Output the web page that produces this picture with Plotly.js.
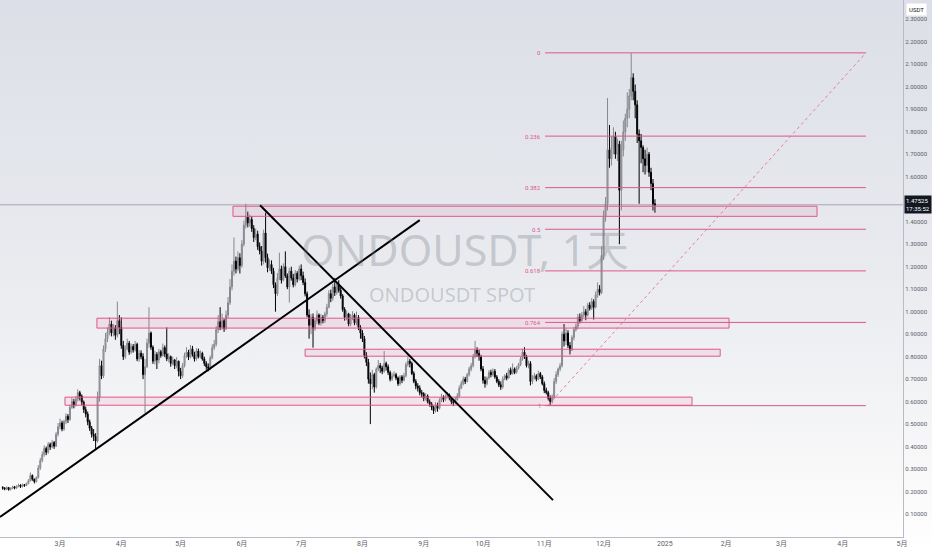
<!DOCTYPE html>
<html>
<head>
<meta charset="utf-8">
<script src="https://cdn.plot.ly/plotly-3.0.1.min.js"></script>
<style>
  html,body{margin:0;padding:0;}
  body{width:932px;height:550px;overflow:hidden;
       background:linear-gradient(180deg,#dcdfe7 0%,#e9ebef 50%,#f8f8f9 85%,#ffffff 100%);}
  #chart{width:932px;height:550px;}
</style>
</head>
<body>
<div id="chart"></div>
<script>
// ---- daily candles ONDOUSDT (close / high / low per month), open = previous close ----
const firstOpen = 0.218;
const febC=[0.215,0.212,0.218,0.209,0.214,0.221,0.216,0.223,0.229,0.222,0.231,0.227,0.236,0.248,0.272,0.255,0.244,0.262,0.305,0.338,0.365,0.392,0.375,0.410,0.398,0.418,0.402,0.455,0.488];
const febH=[0.224,0.220,0.223,0.220,0.218,0.226,0.225,0.228,0.235,0.232,0.236,0.233,0.240,0.256,0.285,0.276,0.258,0.268,0.318,0.350,0.378,0.405,0.400,0.420,0.418,0.430,0.425,0.465,0.505];
const febL=[0.208,0.206,0.207,0.204,0.205,0.211,0.210,0.212,0.219,0.216,0.219,0.221,0.224,0.232,0.245,0.248,0.236,0.240,0.258,0.296,0.330,0.355,0.362,0.368,0.385,0.392,0.390,0.398,0.445];
const marC=[0.505,0.478,0.512,0.535,0.520,0.575,0.600,0.585,0.612,0.640,0.625,0.598,0.565,0.545,0.510,0.482,0.455,0.445,0.425,0.620,0.760,0.715,0.835,0.880,0.910,0.945,0.905,0.928,0.895,0.960,0.930];
const marH=[0.525,0.515,0.520,0.548,0.545,0.585,0.618,0.612,0.625,0.655,0.648,0.632,0.605,0.578,0.556,0.520,0.492,0.478,0.460,0.645,0.790,0.782,0.850,0.905,0.930,0.975,0.960,0.945,0.940,1.045,0.985];
const marL=[0.476,0.468,0.470,0.500,0.505,0.515,0.568,0.570,0.578,0.600,0.605,0.585,0.550,0.530,0.495,0.470,0.440,0.425,0.390,0.418,0.600,0.700,0.705,0.820,0.865,0.895,0.890,0.890,0.875,0.885,0.900];
const aprC=[0.850,0.800,0.835,0.860,0.820,0.845,0.830,0.855,0.790,0.815,0.800,0.720,0.755,0.860,0.905,0.842,0.780,0.810,0.785,0.822,0.805,0.840,0.812,0.790,0.800,0.770,0.785,0.760,0.780,0.735];
const aprH=[0.975,0.870,0.850,0.880,0.870,0.858,0.856,0.870,0.862,0.830,0.828,0.815,0.790,0.880,1.020,0.912,0.850,0.826,0.820,0.835,0.830,0.858,0.850,0.930,0.815,0.805,0.800,0.790,0.798,0.782];
const aprL=[0.835,0.785,0.790,0.828,0.808,0.812,0.818,0.822,0.780,0.776,0.788,0.700,0.550,0.750,0.840,0.830,0.768,0.765,0.745,0.770,0.795,0.800,0.798,0.780,0.775,0.755,0.762,0.745,0.748,0.712];
const mayC=[0.715,0.760,0.805,0.820,0.798,0.835,0.810,0.790,0.825,0.800,0.815,0.790,0.770,0.755,0.748,0.795,0.840,0.855,0.920,0.955,0.930,0.960,0.925,0.985,1.040,1.110,1.180,1.225,1.190,1.240,1.205];
const mayH=[0.750,0.772,0.818,0.842,0.830,0.852,0.848,0.822,0.838,0.836,0.828,0.822,0.800,0.780,0.770,0.805,0.855,0.875,0.935,0.985,1.020,0.992,0.968,1.005,1.065,1.145,1.210,1.330,1.245,1.268,1.260];
const mayL=[0.700,0.705,0.752,0.795,0.785,0.792,0.800,0.778,0.782,0.792,0.792,0.782,0.758,0.742,0.735,0.740,0.788,0.830,0.845,0.905,0.918,0.920,0.910,0.918,0.972,1.030,1.095,1.160,1.170,1.180,1.170];
const junC=[1.300,1.385,1.420,1.395,1.410,1.370,1.330,1.345,1.290,1.270,1.225,1.350,1.240,1.195,1.210,1.180,1.120,1.080,1.150,1.190,1.140,1.200,1.160,1.110,1.180,1.150,1.120,1.170,1.145,1.190];
const junH=[1.318,1.405,1.480,1.445,1.432,1.425,1.385,1.370,1.360,1.308,1.292,1.365,1.440,1.258,1.232,1.228,1.195,1.130,1.172,1.262,1.205,1.215,1.268,1.170,1.195,1.200,1.168,1.185,1.180,1.205];
const junL=[1.195,1.290,1.370,1.375,1.378,1.355,1.310,1.318,1.275,1.255,1.205,1.210,1.218,1.175,1.182,1.168,1.105,1.000,1.070,1.140,1.125,1.135,1.150,1.100,1.040,1.138,1.108,1.112,1.130,1.138];
const julC=[1.160,1.130,1.080,0.985,0.940,0.975,0.925,0.960,0.985,0.950,0.975,0.960,0.990,1.020,1.080,1.060,1.110,1.085,1.120,1.095,1.070,1.010,0.975,0.990,0.945,0.975,0.985,0.950,0.975,0.930,0.905];
const julH=[1.210,1.178,1.148,1.090,1.010,0.990,0.992,0.972,1.005,0.992,0.990,0.985,1.000,1.035,1.095,1.098,1.125,1.150,1.132,1.140,1.108,1.078,1.020,1.005,0.995,0.990,1.002,0.992,1.000,0.985,0.940];
const julL=[1.140,1.118,1.068,0.975,0.880,0.900,0.840,0.915,0.945,0.940,0.938,0.948,0.950,0.978,1.015,1.042,1.048,1.070,1.075,1.085,1.058,1.000,0.960,0.962,0.935,0.935,0.962,0.940,0.940,0.918,0.880];
const augC=[0.880,0.805,0.775,0.700,0.680,0.720,0.665,0.745,0.760,0.750,0.735,0.770,0.755,0.730,0.700,0.715,0.720,0.705,0.680,0.710,0.695,0.715,0.765,0.780,0.770,0.725,0.690,0.670,0.660,0.640,0.635];
const augH=[0.918,0.892,0.820,0.790,0.730,0.742,0.728,0.752,0.785,0.772,0.760,0.825,0.778,0.765,0.738,0.728,0.735,0.728,0.712,0.718,0.718,0.728,0.775,0.800,0.790,0.778,0.735,0.700,0.682,0.672,0.652];
const augL=[0.865,0.792,0.758,0.680,0.500,0.655,0.640,0.658,0.735,0.728,0.722,0.728,0.738,0.718,0.690,0.692,0.708,0.695,0.670,0.672,0.682,0.690,0.708,0.755,0.752,0.718,0.682,0.655,0.645,0.628,0.618];
const sepC=[0.615,0.625,0.600,0.590,0.575,0.560,0.585,0.570,0.605,0.620,0.610,0.625,0.630,0.615,0.600,0.595,0.610,0.625,0.660,0.680,0.700,0.690,0.720,0.745,0.760,0.800,0.830,0.815,0.800,0.745];
const sepH=[0.642,0.638,0.632,0.610,0.598,0.582,0.598,0.595,0.615,0.635,0.628,0.632,0.642,0.636,0.620,0.612,0.622,0.638,0.672,0.692,0.712,0.710,0.728,0.755,0.772,0.812,0.870,0.842,0.830,0.808];
const sepL=[0.602,0.605,0.592,0.578,0.562,0.545,0.552,0.555,0.565,0.598,0.598,0.602,0.615,0.606,0.588,0.580,0.588,0.605,0.618,0.655,0.672,0.678,0.685,0.712,0.735,0.752,0.792,0.798,0.782,0.735];
const octC=[0.695,0.680,0.705,0.730,0.720,0.735,0.710,0.690,0.675,0.665,0.700,0.715,0.705,0.740,0.725,0.745,0.730,0.750,0.765,0.790,0.820,0.800,0.760,0.770,0.690,0.705,0.715,0.700,0.725,0.710,0.680];
const octH=[0.758,0.712,0.712,0.740,0.742,0.748,0.745,0.718,0.700,0.690,0.712,0.722,0.728,0.748,0.752,0.770,0.752,0.758,0.772,0.800,0.835,0.842,0.808,0.782,0.780,0.718,0.728,0.722,0.738,0.732,0.718];
const octL=[0.680,0.662,0.672,0.698,0.708,0.712,0.702,0.682,0.665,0.652,0.658,0.695,0.695,0.702,0.718,0.720,0.722,0.725,0.742,0.758,0.782,0.790,0.752,0.748,0.672,0.678,0.698,0.690,0.695,0.700,0.672];
const novC=[0.650,0.640,0.615,0.600,0.620,0.690,0.720,0.745,0.760,0.900,0.870,0.905,0.850,0.830,0.885,0.920,0.935,0.975,0.960,0.985,1.000,0.985,1.030,1.015,1.045,1.020,1.075,1.100,1.085,1.250];
const novH=[0.690,0.662,0.648,0.628,0.632,0.705,0.735,0.752,0.772,0.912,0.945,0.925,0.918,0.865,0.895,0.932,0.948,0.990,0.992,0.998,1.025,1.012,1.040,1.042,1.060,1.055,1.090,1.130,1.118,1.290];
const novL=[0.638,0.632,0.605,0.585,0.592,0.612,0.678,0.710,0.735,0.752,0.845,0.852,0.838,0.810,0.825,0.872,0.912,0.922,0.948,0.955,0.975,0.962,0.978,1.005,1.008,0.965,1.015,1.062,1.072,1.078];
const decC=[1.420,1.480,1.720,1.680,1.730,1.780,1.700,1.745,1.540,1.720,1.800,1.860,1.900,1.960,2.040,1.980,1.920,1.790,1.760,1.730,1.680,1.650,1.700,1.620,1.570,1.480,1.47525];
const decH=[1.450,1.510,1.950,1.830,1.780,1.820,1.800,1.770,1.760,1.760,1.850,1.880,1.975,1.990,2.150,2.060,2.010,1.940,1.810,1.790,1.740,1.720,1.730,1.710,1.640,1.590,1.500];
const decL=[1.230,1.400,1.450,1.640,1.650,1.700,1.680,1.670,1.300,1.450,1.690,1.760,1.820,1.860,1.940,1.940,1.860,1.750,1.480,1.660,1.620,1.610,1.620,1.600,1.540,1.450,1.440];

const monthKeys=['2024-02','2024-03','2024-04','2024-05','2024-06','2024-07','2024-08','2024-09','2024-10','2024-11','2024-12'];
const monthClose=[febC,marC,aprC,mayC,junC,julC,augC,sepC,octC,novC,decC];
const monthHigh=[febH,marH,aprH,mayH,junH,julH,augH,sepH,octH,novH,decH];
const monthLow=[febL,marL,aprL,mayL,junL,julL,augL,sepL,octL,novL,decL];

// ---- axis ticks ----
const xTickVals=['2024-02-01','2024-03-01','2024-04-01','2024-05-01','2024-06-01','2024-07-01','2024-08-01','2024-09-01','2024-10-01','2024-11-01','2024-12-01','2025-01-01','2025-02-01','2025-03-01','2025-04-01','2025-05-01'];
const xTickText=['2月','3月','4月','5月','6月','7月','8月','9月','10月','11月','12月','2025','2月','3月','4月','5月'];
const yTickVals=[0.1,0.2,0.3,0.4,0.5,0.6,0.7,0.8,0.9,1.0,1.1,1.2,1.3,1.4,1.5,1.6,1.7,1.8,1.9,2.0,2.1,2.2,2.3];
const lastPrice=1.47525;
const countdown='17:35:52';

// ---- drawings ----
const zoneStart=['2024-05-27 12:00','2024-03-19 16:00','2024-07-03 00:00','2024-03-03 12:00'];
const zoneEnd  =['2025-03-19 00:00','2025-02-02 12:00','2025-01-29 00:00','2025-01-14 18:00'];
const zoneLow  =[1.424,0.927,0.802,0.584];
const zoneHigh =[1.469,0.971,0.833,0.620];

const fibLevels=[0,0.236,0.382,0.5,0.618,0.764,1];
const fibLabels=['0','0.236','0.382','0.5','0.618','0.764','1'];
const fibTop=2.151, fibBottom=0.582;
const fibStart='2024-11-01 10:00', fibEnd='2025-04-12 18:00';

const trendX0=['2024-01-30 15:00','2024-06-10 05:00'];
const trendY0=[0.0867,1.473];
const trendX1=['2024-08-30 00:00','2024-11-05 10:00'];
const trendY1=[1.407,0.162];
const diagX=['2024-11-02 22:00','2025-04-12 18:00'];
const diagY=[0.584,2.151];

// ---- build series ----
const dates=[],opens=[],highs=[],lows=[],closes=[];
let prev=firstOpen;
monthKeys.forEach((mk,mi)=>{
  monthClose[mi].forEach((c,di)=>{
    const d=String(di+1).padStart(2,'0');
    dates.push(mk+'-'+d);
    opens.push(prev);
    highs.push(monthHigh[mi][di]);
    lows.push(monthLow[mi][di]);
    closes.push(c);
    prev=c;
  });
});

const pink='#e0558a';
const shapes=[];
// last price line
shapes.push({type:'line',xref:'paper',x0:0,x1:1,yref:'y',y0:lastPrice,y1:lastPrice,line:{color:'#a4a7b0',width:1},layer:'below'});
zoneStart.forEach((s,i)=>{
  shapes.push({type:'rect',xref:'x',yref:'y',x0:s,x1:zoneEnd[i],y0:zoneLow[i],y1:zoneHigh[i],
    line:{color:pink,width:1},fillcolor:'rgba(233,80,140,0.10)',layer:'above'});
});
fibLevels.forEach((lv,i)=>{
  const p=fibTop-lv*(fibTop-fibBottom);
  shapes.push({type:'line',xref:'x',yref:'y',x0:fibStart,x1:fibEnd,y0:p,y1:p,line:{color:pink,width:1},layer:'above'});
});
trendX0.forEach((x0,i)=>{
  shapes.push({type:'line',xref:'x',yref:'y',x0:x0,y0:trendY0[i],x1:trendX1[i],y1:trendY1[i],line:{color:'#000000',width:2}});
});
shapes.push({type:'line',xref:'x',yref:'y',x0:diagX[0],y0:diagY[0],x1:diagX[1],y1:diagY[1],line:{color:'#e57aa3',width:1,dash:'dot'}});

const annotations=[];
const cjk="Roboto, 'Noto Sans CJK SC', sans-serif";
annotations.push({xref:'paper',yref:'paper',x:0.515,y:0.535,text:'ONDOUSDT, 1天',showarrow:false,
  font:{family:"'Noto Sans', 'Noto Sans CJK SC', sans-serif",size:43,color:'rgba(120,123,134,0.32)'},xanchor:'center',yanchor:'middle'});
annotations.push({xref:'paper',yref:'paper',x:0.5,y:0.451,text:'ONDOUSDT SPOT',showarrow:false,
  font:{family:"'Noto Sans', sans-serif",size:20,color:'rgba(120,123,134,0.32)'},xanchor:'center',yanchor:'middle'});
fibLevels.forEach((lv,i)=>{
  const p=fibTop-lv*(fibTop-fibBottom);
  annotations.push({xref:'x',yref:'y',x:fibStart,y:p,text:fibLabels[i],showarrow:false,xanchor:'right',yanchor:'middle',xshift:-2,
    font:{family:cjk,size:6,color:'#e0558a'}});
});
annotations.push({xref:'paper',yref:'y',x:1,y:lastPrice,xanchor:'left',yanchor:'middle',xshift:1,
  text:lastPrice.toFixed(5)+'<br>'+countdown,showarrow:false,bgcolor:'#131722',borderpad:1,align:'left',
  font:{family:cjk,size:6,color:'#ffffff'}});
annotations.push({xref:'paper',yref:'paper',x:1,y:1,xanchor:'left',yanchor:'top',xshift:3,yshift:-3,
  text:'USDT',showarrow:false,bgcolor:'#ffffff',borderpad:2,font:{family:cjk,size:6,color:'#131722'}});

const trace={type:'candlestick',x:dates,open:opens,high:highs,low:lows,close:closes,
  increasing:{line:{color:'#86888e',width:1},fillcolor:'#b0b2b8'},
  decreasing:{line:{color:'#000000',width:1},fillcolor:'#000000'},
  whiskerwidth:0,hoverinfo:'skip',showlegend:false};

const layout={
  width:932,height:550,
  margin:{l:0,r:29,t:0,b:13,pad:0},
  paper_bgcolor:'rgba(0,0,0,0)',plot_bgcolor:'rgba(0,0,0,0)',
  showlegend:false,
  xaxis:{type:'date',range:['2024-01-30 15:00','2025-05-01 12:00'],rangeslider:{visible:false},
    showgrid:false,zeroline:false,tickmode:'array',tickvals:xTickVals,ticktext:xTickText,
    tickfont:{family:cjk,size:7,color:'#5d606b'},showline:true,linecolor:'#b8bbc3',linewidth:1,ticks:'',fixedrange:true},
  yaxis:{side:'right',range:[-0.002,2.386],showgrid:false,zeroline:false,tickmode:'array',tickvals:yTickVals,
    tickformat:'.5f',tickfont:{family:cjk,size:6,color:'#5d606b'},showline:true,linecolor:'#b8bbc3',linewidth:1,ticks:'',fixedrange:true},
  shapes:shapes,annotations:annotations
};
Plotly.newPlot('chart',[trace],layout,{staticPlot:true,displayModeBar:false});
</script>
</body>
</html>
